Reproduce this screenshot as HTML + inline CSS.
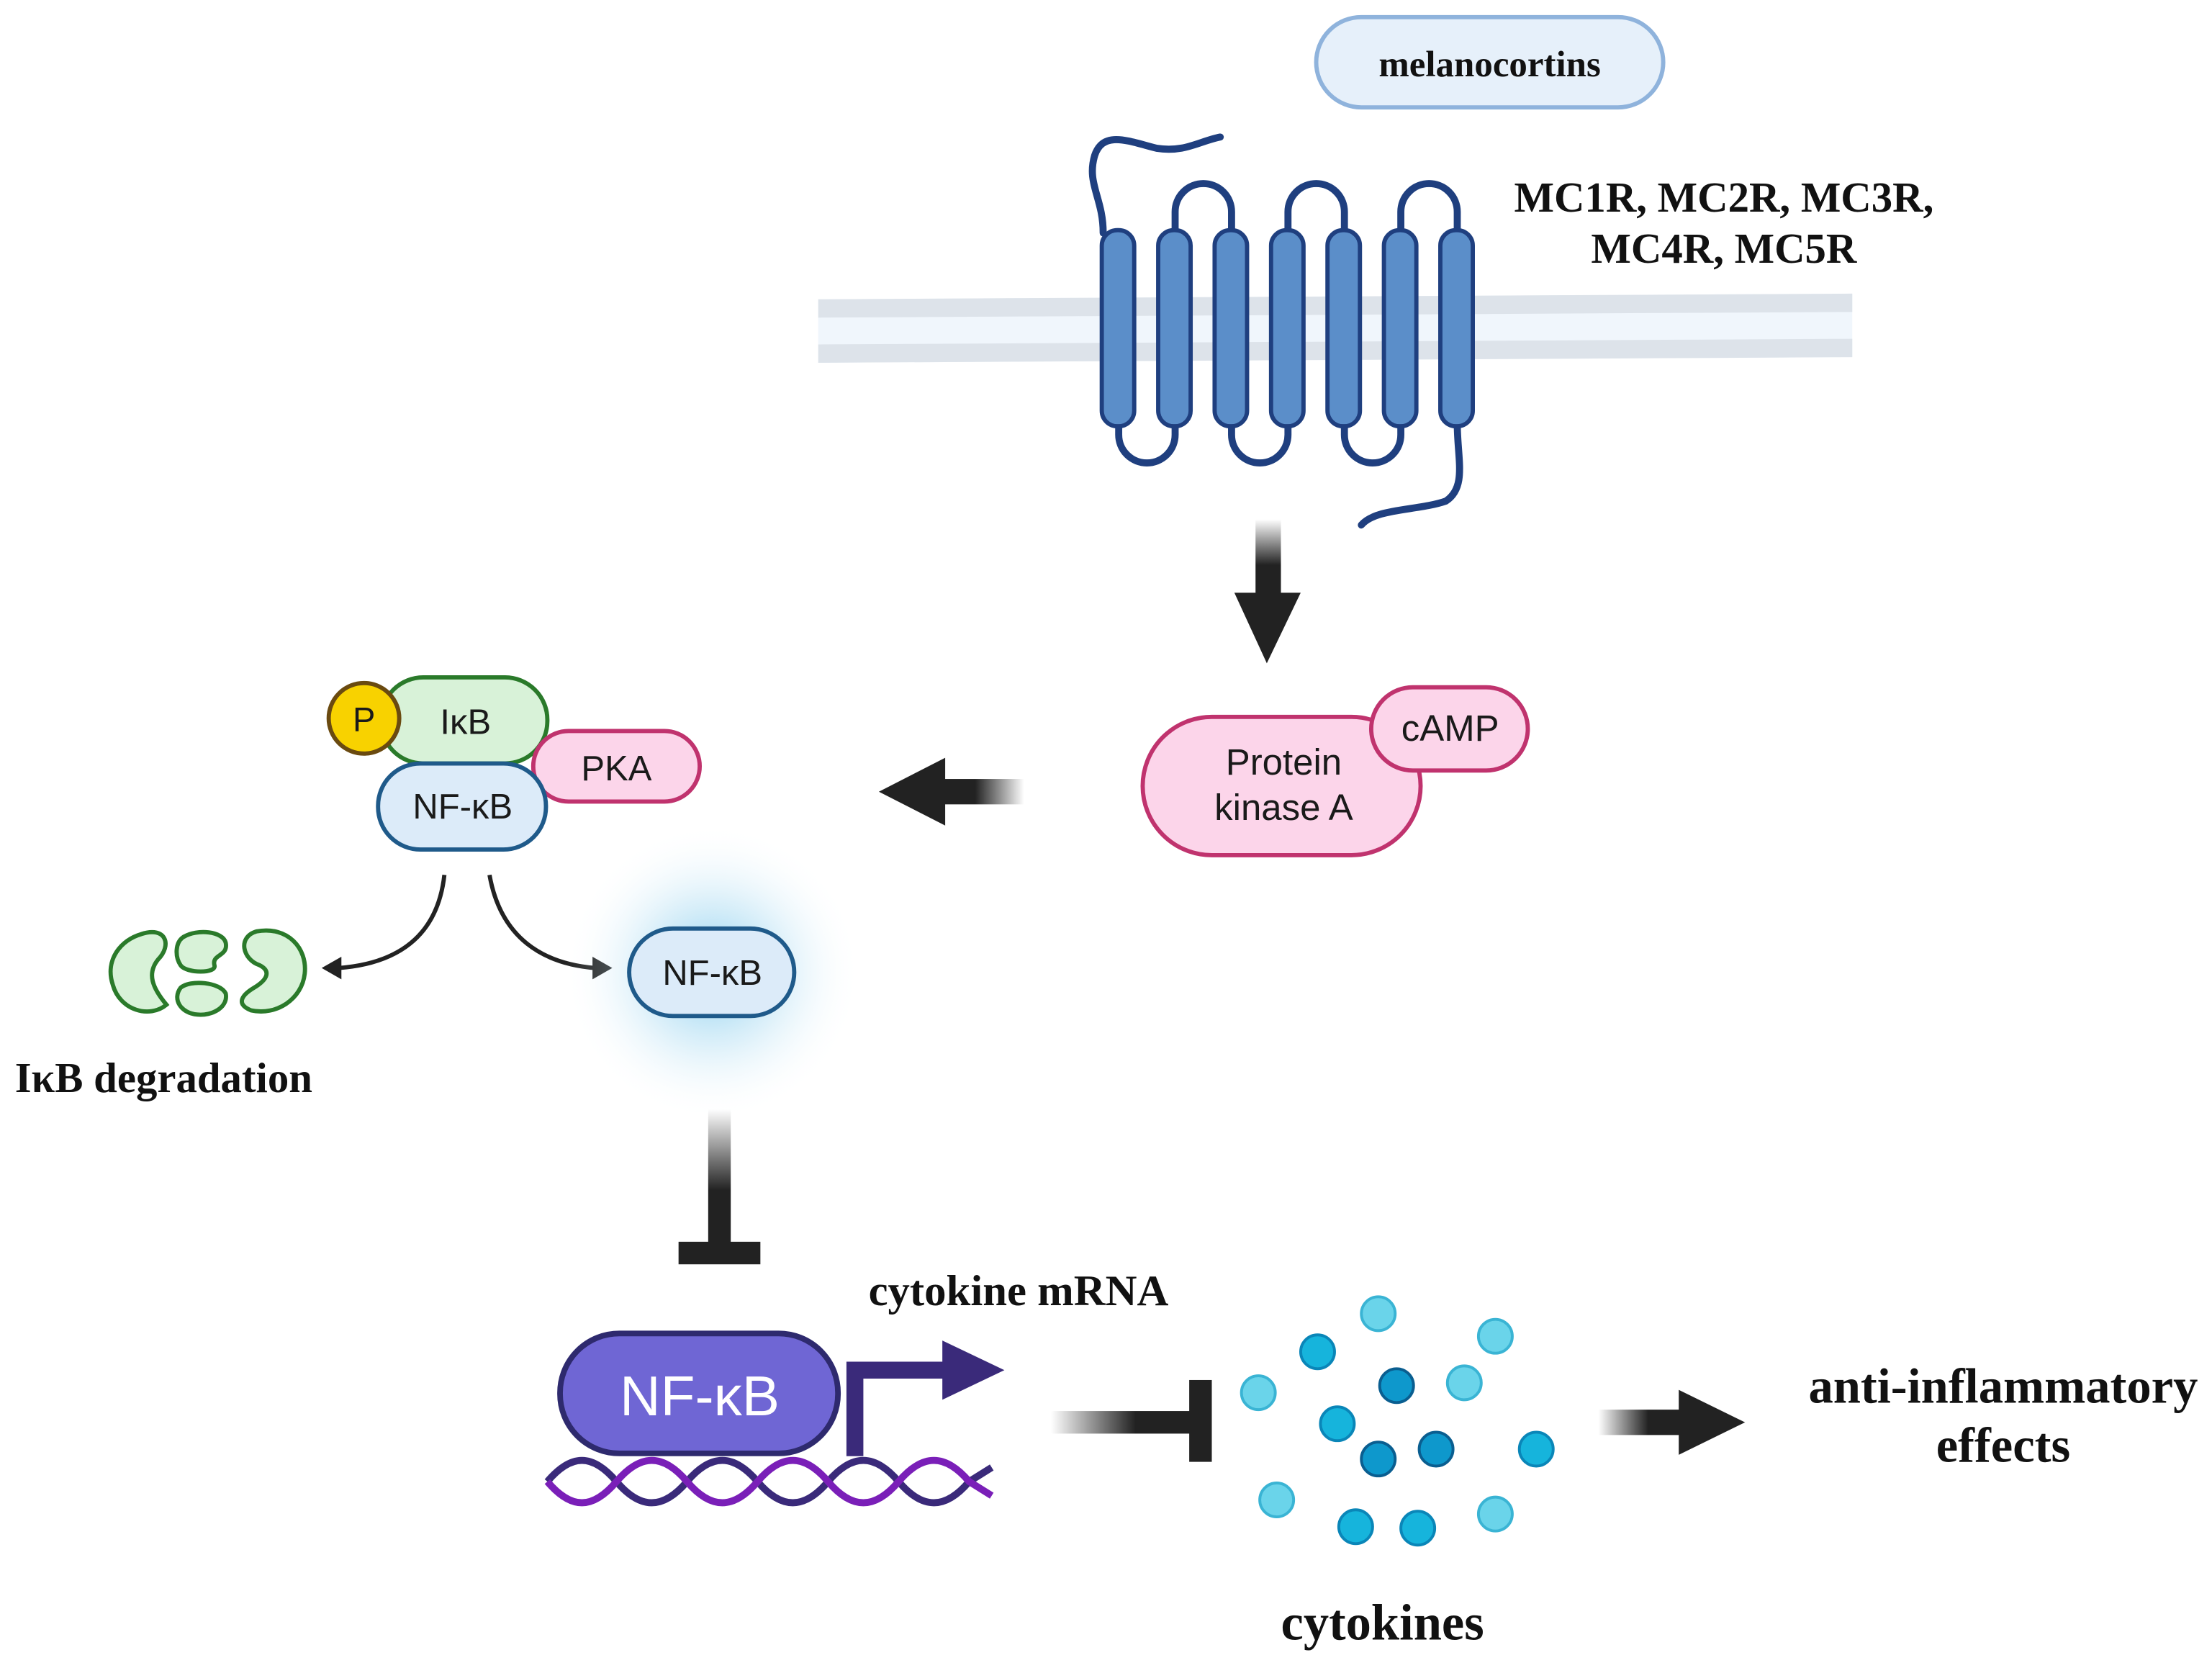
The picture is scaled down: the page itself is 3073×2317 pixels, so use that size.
<!DOCTYPE html>
<html><head><meta charset="utf-8"><style>
html,body{margin:0;padding:0;background:#fff;}
svg{display:block}
.serif{font-family:"Liberation Serif",serif;font-weight:bold;fill:#111}
.sans{font-family:"Liberation Sans",sans-serif;fill:#1a1a1a}
</style></head><body>
<svg width="3073" height="2317" viewBox="0 0 1568 1182" xmlns="http://www.w3.org/2000/svg">
<defs>
<linearGradient id="gv" x1="0" y1="0" x2="0" y2="1"><stop offset="0" stop-color="#222" stop-opacity="0"/><stop offset="0.6" stop-color="#222"/></linearGradient>
<linearGradient id="gl" x1="1" y1="0" x2="0" y2="0"><stop offset="0" stop-color="#222" stop-opacity="0"/><stop offset="0.6" stop-color="#222"/></linearGradient>
<linearGradient id="gr" x1="0" y1="0" x2="1" y2="0"><stop offset="0" stop-color="#222" stop-opacity="0"/><stop offset="0.6" stop-color="#222"/></linearGradient>
<radialGradient id="glow"><stop offset="0" stop-color="#4fb8e8" stop-opacity="0.7"/><stop offset="0.5" stop-color="#9fd6f0" stop-opacity="0.35"/><stop offset="1" stop-color="#fff" stop-opacity="0"/></radialGradient>
</defs>
<rect width="1568" height="1182" fill="#fff"/>
<rect x="933" y="12" width="246" height="64" rx="32" fill="#e6f0fa" stroke="#8fb3dc" stroke-width="3"/>
<text x="1056" y="54" class="serif" font-size="26" text-anchor="middle">melanocortins</text>
<polygon points="580,212 1313,208 1313,253 580,257" fill="#f0f6fc"/>
<polygon points="580,212 1313,208 1313,221 580,225" fill="#dde3ea"/>
<polygon points="580,244 1313,240 1313,253 580,257" fill="#dde3ea"/>
<g fill="none" stroke="#1f3f7f" stroke-width="5" stroke-linecap="round">
<path d="M782,165 C782,140 770,130 776,110 C782,92 800,100 820,105 C840,108 850,100 865,97"/>
<path d="M833,165 V150 A20,20 0 0 1 873,150 V165"/>
<path d="M913,165 V150 A20,20 0 0 1 953,150 V165"/>
<path d="M993,165 V150 A20,20 0 0 1 1033,150 V165"/>
<path d="M793,300 V308 A20,20 0 0 0 833,308 V300"/>
<path d="M873,300 V308 A20,20 0 0 0 913,308 V300"/>
<path d="M953,300 V308 A20,20 0 0 0 993,308 V300"/>
<path d="M1033,300 C1033,325 1040,345 1025,355 C1005,362 975,360 965,372"/>
</g>
<g fill="#5b8ec9" stroke="#1f3f7f" stroke-width="3">
<rect x="781" y="163" width="23" height="139" rx="11"/>
<rect x="821" y="163" width="23" height="139" rx="11"/>
<rect x="861" y="163" width="23" height="139" rx="11"/>
<rect x="901" y="163" width="23" height="139" rx="11"/>
<rect x="941" y="163" width="23" height="139" rx="11"/>
<rect x="981" y="163" width="23" height="139" rx="11"/>
<rect x="1021" y="163" width="23" height="139" rx="11"/>
</g>
<text x="1222" y="150" class="serif" font-size="30" text-anchor="middle">MC1R, MC2R, MC3R,</text>
<text x="1222" y="186" class="serif" font-size="30" text-anchor="middle">MC4R, MC5R</text>
<rect x="890" y="368" width="18" height="54" fill="url(#gv)"/>
<polygon points="875,420 922,420 898,470" fill="#222"/>
<rect x="810" y="508" width="197" height="98" rx="49" fill="#fcd5ea" stroke="#c0336e" stroke-width="3"/>
<rect x="972" y="487" width="111" height="59" rx="29.5" fill="#fcd5ea" stroke="#c0336e" stroke-width="3"/>
<text x="1028" y="525" class="sans" font-size="26" text-anchor="middle">cAMP</text>
<text x="910" y="549" class="sans" font-size="26" text-anchor="middle">Protein</text>
<text x="910" y="581" class="sans" font-size="26" text-anchor="middle">kinase A</text>
<rect x="668" y="552" width="58" height="18" fill="url(#gl)"/>
<polygon points="670,537 670,585 623,561" fill="#222"/>
<rect x="270" y="480" width="118" height="61" rx="30" fill="#d8f2d8" stroke="#2a7a2a" stroke-width="3"/>
<text x="330" y="520" class="sans" font-size="25" text-anchor="middle">IκB</text>
<circle cx="258" cy="509" r="25" fill="#f8d200" stroke="#6a4a10" stroke-width="3"/>
<text x="258" y="518" class="sans" font-size="24" text-anchor="middle">P</text>
<rect x="378" y="518" width="118" height="50" rx="25" fill="#fcd5ea" stroke="#c0336e" stroke-width="3"/>
<text x="437" y="553" class="sans" font-size="25" text-anchor="middle">PKA</text>
<rect x="268" y="541" width="119" height="61" rx="30" fill="#dcebf9" stroke="#1f5a8a" stroke-width="3"/>
<text x="328" y="580" class="sans" font-size="25" text-anchor="middle">NF-κB</text>
<g fill="none" stroke="#222" stroke-width="3">
<path d="M315,620 C310,665 280,683 240,686"/>
<path d="M347,620 C355,665 385,683 422,686"/>
</g>
<polygon points="228,686 242,678 242,694" fill="#222"/>
<polygon points="434,686 420,678 420,694" fill="#222"/>
<g fill="#d8f2d8" stroke="#2a7a2a" stroke-width="3">
<path d="M100,662 C118,656 122,670 112,680 C104,690 108,700 118,712 C106,722 85,716 80,698 C74,680 86,666 100,662 Z"/>
<path d="M130,664 C140,658 158,660 160,668 C162,678 150,676 152,684 C154,690 132,690 128,684 C124,678 124,668 130,664 Z"/>
<path d="M128,700 C135,694 156,696 160,704 C162,714 150,720 140,719 C128,718 122,708 128,700 Z"/>
<path d="M182,660 C204,656 218,672 216,690 C214,708 196,720 178,716 C168,712 170,706 180,700 C190,694 192,688 184,684 C172,680 168,664 182,660 Z"/>
</g>
<text x="116" y="774" class="serif" font-size="30" text-anchor="middle">IκB degradation</text>
<circle cx="505" cy="689" r="105" fill="url(#glow)"/>
<rect x="446" y="658" width="117" height="62" rx="31" fill="#dcebf9" stroke="#1f5a8a" stroke-width="3"/>
<text x="505" y="698" class="sans" font-size="25" text-anchor="middle">NF-κB</text>
<rect x="502" y="786" width="16" height="96" fill="url(#gv)"/>
<rect x="481" y="880" width="58" height="16" fill="#222"/>
<g fill="none" stroke-width="5">
<path d="M388,1050 C405,1030 420,1030 437,1050 S470,1070 487,1050 S520,1030 537,1050 S570,1070 587,1050 S620,1030 637,1050 S670,1070 687,1050 L703,1040" stroke="#3a2a7a"/>
<path d="M388,1050 C405,1070 420,1070 437,1050 S470,1030 487,1050 S520,1070 537,1050 S570,1030 587,1050 S620,1070 637,1050 S670,1030 687,1050 L703,1060" stroke="#7a1fb8"/>
</g>
<path d="M606,1032 V971 H672" fill="none" stroke="#3a2a7a" stroke-width="12"/>
<polygon points="668,950 668,992 712,971" fill="#3a2a7a"/>
<rect x="397" y="945" width="197" height="85" rx="42" fill="#6f66d4" stroke="#2e2a6e" stroke-width="4"/>
<text x="496" y="1003" font-family="Liberation Sans, sans-serif" font-size="40" fill="#fff" text-anchor="middle">NF-κB</text>
<text x="722" y="925" class="serif" font-size="31" text-anchor="middle">cytokine mRNA</text>
<rect x="745" y="1000" width="100" height="16" fill="url(#gr)"/>
<rect x="843" y="978" width="16" height="58" fill="#222"/>
<g stroke-width="2">
<circle cx="977" cy="931" r="12" fill="#6ad4ea" stroke="#3ab4d4"/>
<circle cx="1060" cy="947" r="12" fill="#6ad4ea" stroke="#3ab4d4"/>
<circle cx="934" cy="958" r="12" fill="#16b4dc" stroke="#0a86b8"/>
<circle cx="892" cy="987" r="12" fill="#6ad4ea" stroke="#3ab4d4"/>
<circle cx="990" cy="982" r="12" fill="#0e98cc" stroke="#0a5e90"/>
<circle cx="1038" cy="980" r="12" fill="#6ad4ea" stroke="#3ab4d4"/>
<circle cx="948" cy="1009" r="12" fill="#16b4dc" stroke="#0a86b8"/>
<circle cx="977" cy="1034" r="12" fill="#0e98cc" stroke="#0a5e90"/>
<circle cx="1018" cy="1027" r="12" fill="#0e98cc" stroke="#0a5e90"/>
<circle cx="1089" cy="1027" r="12" fill="#16b4dc" stroke="#0a86b8"/>
<circle cx="905" cy="1063" r="12" fill="#6ad4ea" stroke="#3ab4d4"/>
<circle cx="961" cy="1082" r="12" fill="#16b4dc" stroke="#0a86b8"/>
<circle cx="1005" cy="1083" r="12" fill="#16b4dc" stroke="#0a86b8"/>
<circle cx="1060" cy="1073" r="12" fill="#6ad4ea" stroke="#3ab4d4"/>
</g>
<text x="980" y="1162" class="serif" font-size="36" text-anchor="middle">cytokines</text>
<rect x="1133" y="999" width="59" height="18" fill="url(#gr)"/>
<polygon points="1190,985 1190,1031 1237,1008" fill="#222"/>
<text x="1420" y="994" class="serif" font-size="35" text-anchor="middle">anti-inflammatory</text>
<text x="1420" y="1036" class="serif" font-size="35" text-anchor="middle">effects</text>
</svg>
</body></html>
